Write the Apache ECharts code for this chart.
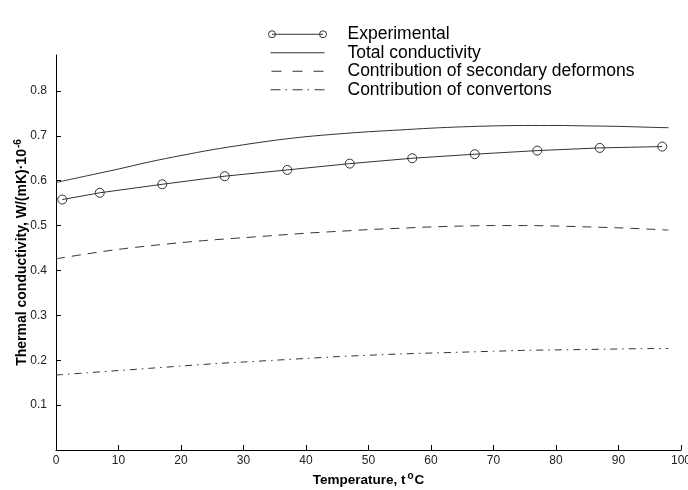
<!DOCTYPE html>
<html>
<head>
<meta charset="utf-8">
<script src="https://cdn.jsdelivr.net/npm/echarts@6/dist/echarts.min.js"></script>
<style>
html,body{margin:0;padding:0;background:#fff;}
#c{width:688px;height:490px;}
</style>
</head>
<body>
<div id="c"></div>
<script>
// Experimental points
const tempExp = [1, 7, 17, 27, 37, 47, 57, 67, 77, 87, 97];
const expValues = [0.558, 0.573, 0.592, 0.610, 0.624, 0.638, 0.650, 0.659, 0.667, 0.673, 0.676];
// Model curves
const tempModel = [0, 5, 10, 15, 20, 25, 30, 35, 40, 45, 50, 55, 60, 65, 70, 75, 80, 85, 90, 95, 98];
const totalValues = [0.596, 0.611, 0.626, 0.642, 0.656, 0.669, 0.680, 0.690, 0.698, 0.704, 0.709, 0.713, 0.717, 0.720, 0.722, 0.723, 0.723, 0.722, 0.721, 0.719, 0.718];
const deformonValues = [0.426, 0.437, 0.447, 0.455, 0.462, 0.468, 0.473, 0.478, 0.483, 0.487, 0.491, 0.494, 0.497, 0.499, 0.500, 0.500, 0.499, 0.497, 0.495, 0.492, 0.490];
const convertonValues = [0.167, 0.172, 0.177, 0.182, 0.187, 0.192, 0.196, 0.200, 0.204, 0.208, 0.211, 0.214, 0.216, 0.218, 0.220, 0.222, 0.223, 0.224, 0.225, 0.226, 0.226];
// Axis ticks
const xTicks = [0, 10, 20, 30, 40, 50, 60, 70, 80, 90, 100];
const yTicks = [0.1, 0.2, 0.3, 0.4, 0.5, 0.6, 0.7, 0.8];
const seriesNames = ['Experimental', 'Total conductivity', 'Contribution of secondary deformons', 'Contribution of convertons'];

const pair = (xs, ys) => xs.map((x, i) => [x, ys[i]]);
const LINE = '#333';
const FONT = '"Liberation Sans", Arial, Helvetica, sans-serif';

// legend glyphs (58 x 7 box)
const ICON_EXP = 'path://M3.5,0 A3.5,3.5 0 1,0 3.5,7 A3.5,3.5 0 1,0 3.5,0 Z M3.5,3.5 L54.5,3.5 M54.5,0 A3.5,3.5 0 1,0 54.5,7 A3.5,3.5 0 1,0 54.5,0 Z';
const ICON_SOLID = 'path://M0,0 M2,3.5 L56,3.5 M58,7';
const ICON_DASH = 'path://M0,0 M3,3.5 L13,3.5 M24,3.5 L34,3.5 M45,3.5 L55,3.5 M58,7';
const ICON_DASHDOT = 'path://M0,0 M2,3.5 L12,3.5 M17,3.5 L18.5,3.5 M24,3.5 L34,3.5 M39,3.5 L40.5,3.5 M46,3.5 L56,3.5 M58,7';
const iconStyle = {color: 'none', borderColor: LINE, borderWidth: 1};

const chart = echarts.init(document.getElementById('c'), null, {renderer: 'canvas'});
chart.setOption({
  animation: false,
  backgroundColor: '#fff',
  textStyle: {fontFamily: FONT},
  grid: {left: 56, right: 7, top: 55, bottom: 40, containLabel: false, outerBoundsMode: 'none'},
  legend: {
    orient: 'vertical',
    left: 261,
    top: 20,
    itemWidth: 58,
    itemHeight: 7,
    itemGap: 0,
    symbolKeepAspect: false,
    selectedMode: false,
    textStyle: {fontFamily: FONT, fontSize: 17.5, color: '#000', lineHeight: 18.5, padding: [0, 0, 0, 16]},
    data: [
      {name: seriesNames[0], icon: ICON_EXP, itemStyle: iconStyle},
      {name: seriesNames[1], icon: ICON_SOLID, itemStyle: iconStyle},
      {name: seriesNames[2], icon: ICON_DASH, itemStyle: iconStyle},
      {name: seriesNames[3], icon: ICON_DASHDOT, itemStyle: iconStyle}
    ]
  },
  xAxis: {
    type: 'value',
    min: 0, max: 100, interval: 10,
    name: 'Temperature, t{sup|o}C',
    nameLocation: 'middle',
    nameGap: 21,
    nameMoveOverlap: false,
    nameTextStyle: {fontFamily: FONT, fontSize: 13.5, fontWeight: 'bold', color: '#000',
      rich: {sup: {fontFamily: FONT, fontSize: 10, fontWeight: 'bold', color: '#000', verticalAlign: 'top', padding: [0, 1, 8, 2]}}},
    axisLine: {show: true, onZero: false, lineStyle: {color: '#000', width: 1}},
    axisTick: {show: true, inside: true, length: 5, lineStyle: {color: '#000'}},
    axisLabel: {fontFamily: FONT, fontSize: 12, color: '#222', margin: 5, showMaxLabel: true},
    splitLine: {show: false}
  },
  yAxis: {
    type: 'value',
    min: 0, max: 0.88, interval: 0.1,
    name: 'Thermal conductivity, W/(mK)·10{sup|-6}',
    nameLocation: 'middle',
    nameGap: 25,
    nameMoveOverlap: false,
    nameTextStyle: {fontFamily: FONT, fontSize: 14, fontWeight: 'bold', color: '#000',
      rich: {sup: {fontFamily: FONT, fontSize: 10, fontWeight: 'bold', color: '#000', verticalAlign: 'top', padding: [0, 0, 8, 1]}}},
    axisLine: {show: true, onZero: false, lineStyle: {color: '#000', width: 1}},
    axisTick: {show: true, inside: true, length: 5, lineStyle: {color: '#000'}, customValues: yTicks},
    axisLabel: {fontFamily: FONT, fontSize: 12, color: '#222', margin: 9, customValues: yTicks,
      formatter: v => v.toFixed(1)},
    splitLine: {show: false}
  },
  series: [
    {
      name: seriesNames[0], type: 'line', data: pair(tempExp, expValues),
      symbol: 'circle', symbolSize: 9, showSymbol: true,
      itemStyle: {color: 'transparent', borderColor: LINE, borderWidth: 1},
      lineStyle: {color: LINE, width: 1}, z: 5
    },
    {
      name: seriesNames[1], type: 'line', data: pair(tempModel, totalValues),
      symbol: 'none', smooth: 0.3,
      itemStyle: {color: LINE},
      lineStyle: {color: LINE, width: 1}
    },
    {
      name: seriesNames[2], type: 'line', data: pair(tempModel, deformonValues),
      symbol: 'none', smooth: 0.3,
      itemStyle: {color: LINE},
      lineStyle: {color: LINE, width: 1, type: [9, 7]}
    },
    {
      name: seriesNames[3], type: 'line', data: pair(tempModel, convertonValues),
      symbol: 'none', smooth: 0.3,
      itemStyle: {color: LINE},
      lineStyle: {color: LINE, width: 1, type: [7, 5, 1.5, 5]}
    }
  ]
});
</script>
</body>
</html>
